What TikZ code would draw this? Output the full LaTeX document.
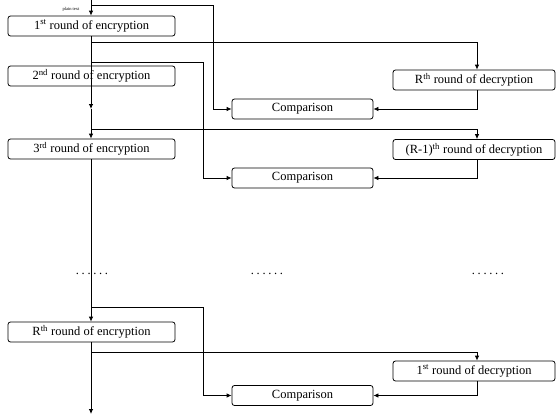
\documentclass[tikz,border=0pt]{standalone}
\usepackage{fontspec}
\setmainfont{Liberation Serif}
\usetikzlibrary{arrows.meta}
\newcommand\dotrow{.\hspace{2.7pt}.\hspace{2.7pt}.\hspace{2.7pt}.\hspace{2.7pt}.\hspace{2.7pt}.}
\begin{document}
\begin{tikzpicture}[x=1pt,y=-1pt,
  box/.style={draw, line width=0.8pt, rounded corners=2.5pt, inner sep=0pt,
    font=\fontsize{12.5}{14}\selectfont},
  encbox/.style={box, minimum width=167pt, minimum height=20pt},
  decbox/.style={box, minimum width=162pt, minimum height=20pt},
  cmpbox/.style={box, minimum width=141pt, minimum height=20pt},
  wire/.style={line width=0.8pt},
  arr/.style={wire, -{Latex[length=5pt,width=4.5pt]}},
  dotlabel/.style={font=\fontsize{12.5}{14}\selectfont, inner sep=0pt}
]
\useasboundingbox (0,0) rectangle (556,415);

% boxes
\node[encbox] (enc1) at (91.5,26) {1\textsuperscript{st} round of encryption};
\node[encbox] (enc2) at (91.5,76) {2\textsuperscript{nd} round of encryption};
\node[encbox] (enc3) at (91.5,149) {3\textsuperscript{rd} round of encryption};
\node[encbox] (encR) at (91.5,332) {R\textsuperscript{th} round of encryption};

\node[decbox] (decR)  at (474,80)  {R\textsuperscript{th} round of decryption};
\node[decbox] (decR1) at (474,149.5) {(R-1)\textsuperscript{th} round of decryption};
\node[decbox] (dec1)  at (474,371) {1\textsuperscript{st} round of decryption};

\node[cmpbox] (cmp1) at (302.5,109) {Comparison};
\node[cmpbox] (cmp2) at (302.5,178) {Comparison};
\node[cmpbox] (cmp3) at (302.5,395.5) {Comparison};

\node[font=\fontsize{4.5}{5}\selectfont, inner sep=0pt] (pt) at (71,9.5) {plain text};

\node[dotlabel] (d1) at (92,274) {\dotrow};
\node[dotlabel] (d2) at (267,274) {\dotrow};
\node[dotlabel] (d3) at (488,274) {\dotrow};

% coordinates
\coordinate (top) at (91,0);
\coordinate (p0) at (91,5);
\coordinate (b1) at (91,42);
\coordinate (b2) at (91,62);
\coordinate (m1) at (91,109);
\coordinate (b3) at (91,129);
\coordinate (b4) at (91,307);
\coordinate (b5) at (91,352);
\coordinate (bot) at (91,414);
\coordinate (x1) at (213,0);
\coordinate (x2) at (203,0);
\coordinate (xd) at (477,0);

% main chain
\draw[arr] (top) -- (enc1.north -| top);
\draw[arr] (enc1.south -| top) -- (m1);
\draw[arr] (m1) -- (enc3.north -| top);
\draw[arr] (enc3.south -| top) -- (encR.north -| top);
\draw[arr] (encR.south -| top) -- (bot);

% plain text to comparison 1
\draw[arr] (p0) -- (p0 -| x1) -- (cmp1.west -| x1) -- (cmp1.west);
% round 1 output to Rth decryption
\draw[arr] (b1) -- (b1 -| xd) -- (decR.north -| xd);
\draw[arr] (decR.south -| xd) -- (cmp1.east -| xd) -- (cmp1.east);
% round 1 output to comparison 2
\draw[arr] (b2) -- (b2 -| x2) -- (cmp2.west -| x2) -- (cmp2.west);
% round 2 output to (R-1)th decryption
\draw[arr] (b3) -- (b3 -| xd) -- (decR1.north -| xd);
\draw[arr] (decR1.south -| xd) -- (cmp2.east -| xd) -- (cmp2.east);
% round R-1 output to comparison 3
\draw[arr] (b4) -- (b4 -| x2) -- (cmp3.west -| x2) -- (cmp3.west);
% round R output to 1st decryption
\draw[arr] (b5) -- (b5 -| xd) -- (dec1.north -| xd);
\draw[arr] (dec1.south -| xd) -- (cmp3.east -| xd) -- (cmp3.east);
\end{tikzpicture}
\end{document}
